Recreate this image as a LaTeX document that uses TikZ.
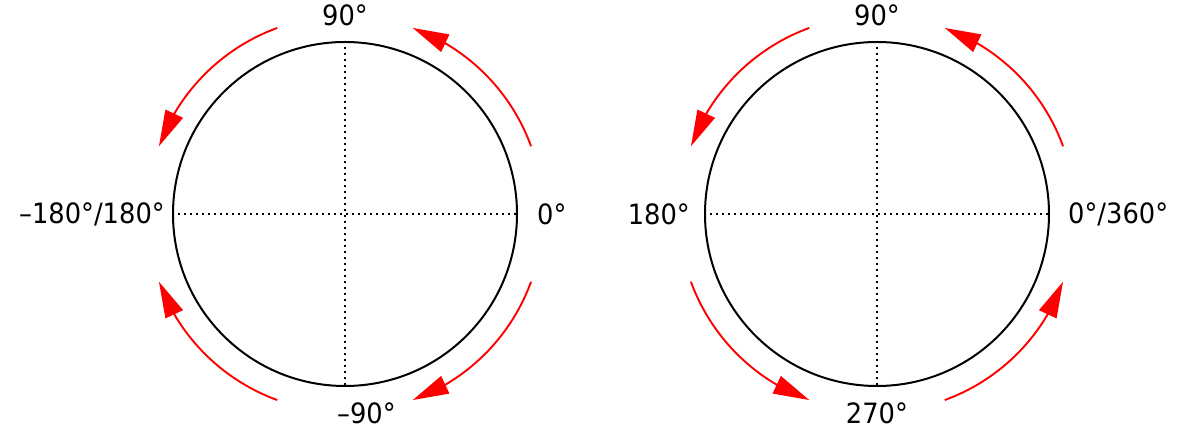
\documentclass[tikz,border=0pt]{standalone}
\usepackage{fontspec}
\setmainfont[FakeStretch=0.92]{DejaVu Sans}
\usetikzlibrary{arrows.meta,bending}
\tikzset{
  ring/.style={circle, draw=black, line width=2pt, minimum size=344pt, inner sep=0pt},
  axisline/.style={line width=2pt, dash pattern=on 2pt off 4pt},
  rotarrow/.style={draw=red, line width=1.9pt, -{Triangle[length=36pt,width=19pt,flex]}},
  lbl/.style={font=\fontsize{28}{30}\selectfont, inner sep=0pt}
}
\begin{document}
\begin{tikzpicture}[x=1pt,y=1pt]
\useasboundingbox (0,0) rectangle (1179,436);
% left circle
\node[ring] (c1) at (345,222) {};
\draw[axisline] (c1.west) -- (c1.east);
\draw[axisline] (c1.north) -- (c1.south);
\draw[rotarrow] ([shift={(20:198pt)}]c1.center) arc[start angle=20, end angle=70, radius=198pt];
\draw[rotarrow] ([shift={(110:198pt)}]c1.center) arc[start angle=110, end angle=160, radius=198pt];
\draw[rotarrow] ([shift={(250:198pt)}]c1.center) arc[start angle=250, end angle=200, radius=198pt];
\draw[rotarrow] ([shift={(340:198pt)}]c1.center) arc[start angle=340, end angle=290, radius=198pt];
\node[lbl] (l90) at (345,421) {90°};
\node[lbl, anchor=west] (lm90) at (337,23) {–90°};
\node[lbl, anchor=west] (l0) at (537,222) {0°};
\node[lbl, anchor=east] (l180) at (165,222) {–180°/180°};
% right circle
\node[ring] (c2) at (877,222) {};
\draw[axisline] (c2.west) -- (c2.east);
\draw[axisline] (c2.north) -- (c2.south);
\draw[rotarrow] ([shift={(20:198pt)}]c2.center) arc[start angle=20, end angle=70, radius=198pt];
\draw[rotarrow] ([shift={(110:198pt)}]c2.center) arc[start angle=110, end angle=160, radius=198pt];
\draw[rotarrow] ([shift={(200:198pt)}]c2.center) arc[start angle=200, end angle=250, radius=198pt];
\draw[rotarrow] ([shift={(290:198pt)}]c2.center) arc[start angle=290, end angle=340, radius=198pt];
\node[lbl] (r90) at (877,421) {90°};
\node[lbl] (r270) at (877,23) {270°};
\node[lbl, anchor=west] (r0) at (1068,222) {0°/360°};
\node[lbl, anchor=east] (r180) at (690,222) {180°};
\end{tikzpicture}
\end{document}
